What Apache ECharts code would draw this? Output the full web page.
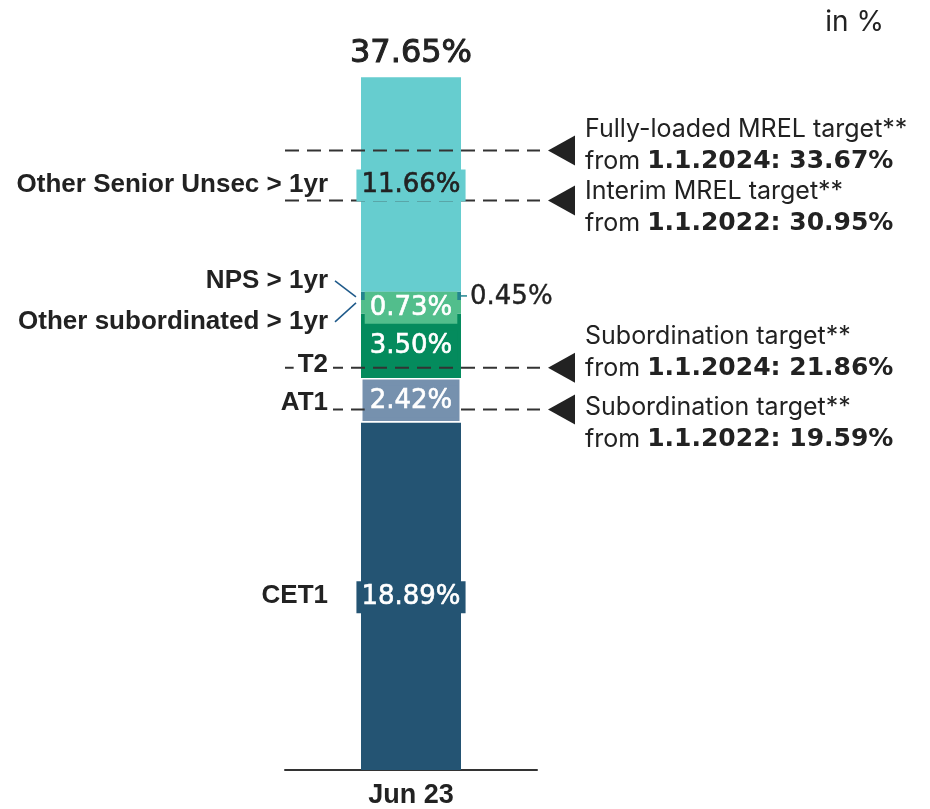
<!DOCTYPE html>
<html>
<head>
<meta charset="utf-8">
<title>MREL and subordination capacity</title>
<script src="https://cdn.jsdelivr.net/npm/echarts@6/dist/echarts.min.js"></script>
<style>
  html, body { margin: 0; padding: 0; background: #ffffff; }
  #chart { width: 930px; height: 809px; }
</style>
</head>
<body>
<div id="chart"></div>
<script>
// ---- data ----
const categories = ['Jun 23'];
const segmentNames = ['CET1', 'AT1', 'T2', 'NPS > 1yr', 'Other subordinated > 1yr', 'Other Senior Unsec > 1yr'];
const segmentValues = [18.89, 2.42, 3.50, 0.73, 0.45, 11.66];
const totalValue = 37.65;
const targetValues = [33.67, 30.95, 21.86, 19.59];
const targetTitles = ['Fully-loaded MREL target**', 'Interim MREL target**', 'Subordination target**', 'Subordination target**'];
const targetDates = ['1.1.2024', '1.1.2022', '1.1.2024', '1.1.2022'];
const unitLabel = 'in %';

// ---- styling ----
const segmentColors = ['#245473', '#7691AE', '#048B5D', '#52BE8C', '#23858F', '#66CDCF'];
const valueTextColors = ['#ffffff', '#ffffff', '#ffffff', '#ffffff', '#222222', '#222222'];
const insideLabel = [true, true, true, true, false, true];
const leftLabelShift = [0, 3, 19, -26, 26, 0];     // px shift of the category names
const connectorEnd = [null, null, null, -10, 7, null]; // leader end, px from segment middle
const targetTextShift = [-5, 7, -15, 14];          // px shift of the target captions
const textFont = 'Inter, "Noto Sans", sans-serif';
const numFont = '"DejaVu Sans", Inter, sans-serif';
const nameFont = '"Liberation Sans", Arial, sans-serif';
const ink = '#222222';

// cumulative bases of the stacked segments
const bases = [];
segmentValues.reduce((acc, v, i) => { bases[i] = acc; return acc + v; }, 0);

const chart = echarts.init(document.getElementById('chart'), null, { renderer: 'canvas' });

const barSeries = segmentNames.map((name, i) => ({
  name: name,
  type: 'bar',
  stack: 'capacity',
  barWidth: 100,
  z: 2,
  data: [segmentValues[i]],
  itemStyle: {
    color: segmentColors[i],
    borderColor: i === 1 ? '#ffffff' : segmentColors[i],
    borderWidth: i === 1 ? 1.5 : 0
  },
  label: { show: false },
  emphasis: { disabled: true }
}));

// dashed target lines, arrow heads and captions
const targetSeries = {
  type: 'custom',
  name: 'targets',
  z: 3,
  silent: true,
  data: targetValues.map(v => [0, v]),
  renderItem: function (params, api) {
    const cs = params.coordSys;
    const i = params.dataIndex;
    const v = api.value(1);
    const y = api.coord([0, v])[1];
    const right = cs.x + cs.width;
    return {
      type: 'group',
      children: [
        { type: 'line', shape: { x1: cs.x, y1: y, x2: right + 3, y2: y },
          style: { stroke: '#333333', lineWidth: 2, lineDash: [14, 8] } },
        { type: 'polygon', shape: { points: [[right + 11, y], [right + 38, y - 15], [right + 38, y + 15]] },
          style: { fill: ink } },
        { type: 'text', x: right + 48, y: y + targetTextShift[i],
          style: {
            text: '{r|' + targetTitles[i] + '}\n{r|from }{b|' + targetDates[i] + ': ' + v.toFixed(2) + '%}',
            verticalAlign: 'middle', align: 'left',
            rich: {
              r: { fontFamily: textFont, fontSize: 25, fontWeight: 400, fill: ink, color: ink, lineHeight: 32 },
              b: { fontFamily: numFont, fontSize: 25, fontWeight: 700, fill: ink, color: ink, lineHeight: 32 }
            }
          } }
      ]
    };
  }
};

// value labels on the bar, category names on the left, total on top
const labelSeries = {
  type: 'custom',
  name: 'labels',
  z: 4,
  silent: true,
  data: segmentValues.map((v, i) => [0, bases[i], v, i]),
  renderItem: function (params, api) {
    const i = api.value(3);
    const base = api.value(1);
    const v = api.value(2);
    const yTop = api.coord([0, base + v])[1];
    const yBot = api.coord([0, base])[1];
    const mid = (yTop + yBot) / 2;
    const cx = api.coord([0, base])[0];
    const barLeft = cx - 50;
    const barRight = cx + 50;
    const children = [];
    if (insideLabel[i]) {
      children.push({ type: 'text', x: cx, y: mid + 1,
        style: { text: v.toFixed(2) + '%', fill: valueTextColors[i], align: 'center', verticalAlign: 'middle',
          font: '400 26px ' + numFont, backgroundColor: segmentColors[i], padding: [3, 5, 3, 5], lineHeight: 26,
          stroke: valueTextColors[i], lineWidth: 0.6 } });
    } else {
      children.push({ type: 'line', shape: { x1: barRight, y1: mid, x2: barRight + 6, y2: mid },
        style: { stroke: segmentColors[i], lineWidth: 1.5 } });
      children.push({ type: 'text', x: barRight + 9, y: mid + 1,
        style: { text: v.toFixed(2) + '%', fill: ink, align: 'left', verticalAlign: 'middle',
          font: '400 26px ' + numFont, stroke: ink, lineWidth: 0.4 } });
    }
    const ly = mid + leftLabelShift[i];
    children.push({ type: 'text', x: barLeft - 28, y: ly,
      style: { text: segmentNames[i], fill: ink, align: 'right', verticalAlign: 'middle',
        font: 'bold 26px ' + nameFont, backgroundColor: '#ffffff', padding: [0, 5, 0, 4] } });
    if (connectorEnd[i] !== null) {
      children.push({ type: 'line', shape: { x1: barLeft - 26, y1: ly, x2: barLeft - 5, y2: mid + connectorEnd[i] },
        style: { stroke: '#1F5A8A', lineWidth: 1.5 } });
    }
    if (i === segmentValues.length - 1) {
      const yt = api.coord([0, totalValue])[1];
      children.push({ type: 'text', x: cx, y: yt - 24,
        style: { text: totalValue.toFixed(2) + '%', fill: ink, align: 'center', verticalAlign: 'middle',
          font: '400 32px ' + numFont, stroke: ink, lineWidth: 1 } });
    }
    return { type: 'group', children: children };
  }
};

chart.setOption({
  animation: false,
  backgroundColor: '#ffffff',
  title: {
    text: unitLabel,
    right: 41,
    top: 4,
    textStyle: { fontFamily: textFont, fontSize: 28, fontWeight: 400, color: ink }
  },
  grid: { left: 285, right: 393, top: 34, bottom: 38 },
  xAxis: {
    type: 'category',
    data: categories,
    axisLine: { lineStyle: { color: '#333333', width: 2 } },
    axisTick: { show: false },
    axisLabel: { color: ink, fontFamily: nameFont, fontWeight: 'bold', fontSize: 27, margin: 12 }
  },
  yAxis: { type: 'value', min: 0, max: 40, show: false, splitLine: { show: false } },
  series: barSeries.concat([targetSeries, labelSeries])
});
</script>
</body>
</html>
